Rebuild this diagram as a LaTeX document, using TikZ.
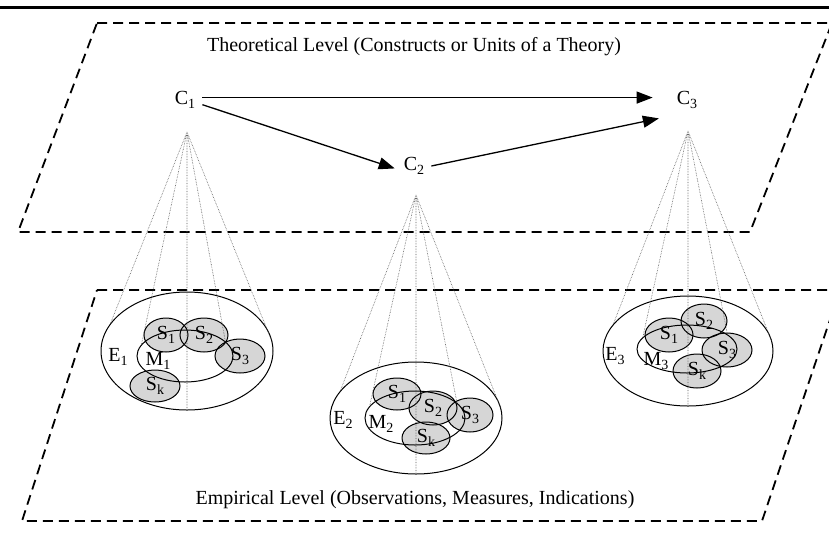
\documentclass[tikz,border=0pt]{standalone}
\usepackage{fontspec}
\setmainfont{Liberation Serif}
\usepackage{tikz}
\usetikzlibrary{arrows.meta}
\usetikzlibrary{shapes.geometric}
\definecolor{sgray}{gray}{0.84}
\newcommand{\ix}[1]{\raisebox{-4.5pt}{\fontsize{14}{14}\selectfont #1}}

\begin{document}
\begin{tikzpicture}[x=1pt,y=-1pt,
		font=\fontsize{20}{24}\selectfont,
		conc/.style={inner sep=7pt},
		link/.style={line width=1.3pt,-{Triangle[length=16pt,width=12pt]}},
		plane/.style={line width=1.8pt,dash pattern=on 10pt off 6pt},
		ray/.style={densely dotted,black!65,line width=0.6pt},
		evid/.style={ellipse,draw,line width=1pt,inner sep=0pt},
		sblob/.style={ellipse,draw,line width=1pt,inner sep=0pt},
		tag/.style={inner sep=0pt}
		]
		\useasboundingbox (0,0) rectangle (829,539);
		\draw[line width=3pt] (0,7) -- (829,7);
		% the two levels
		\draw[plane] (97,23) -- (832,23) -- (750,232) -- (18,232) -- cycle;
		\draw[plane] (97,290) -- (840,290) -- (762,521) -- (22,521) -- cycle;
		\node (theo) at (414,47) {Theoretical Level (Constructs or Units of a Theory)};
		\node (emp) at (415,500) {Empirical Level (Observations, Measures, Indications)};
		% constructs
		\node (C1) [conc] at (185,100) {C\ix{1}};
		\node (C2) [conc] at (414,166) {C\ix{2}};
		\node (C3) [conc] at (687,100) {C\ix{3}};
		\draw[link,shorten >=17pt] (C1.8) -- (C3.172);
		\draw[link,shorten >=2pt] (C1.-15) -- (C2.190);
		\draw[link,shorten >=11pt] (C2.east) -- (C3.south west);
		\coordinate (a1) at (187,132);
		\coordinate (a2) at (416,195);
		\coordinate (a3) at (688,131);
		% shaded indicators first
		\foreach \g/\i/\x/\y/\rx/\ry in {1/1/166/335/22/17, 1/2/204/335/24/17, 1/3/240/356/25/17, 1/k/155/386/25/16,
			2/1/397/394/24/16, 2/2/433/408/24/17, 2/3/470/415/23/17, 2/k/426/438/24/16,
			3/1/669/335/24/17, 3/2/704/321/23/17, 3/3/727/350/25/17, 3/k/697/371/24/17}
			\fill[sgray] (\x,\y) ellipse [x radius=\rx pt, y radius=\ry pt];
		% empirical sets and measures
		\foreach \g/\x/\y/\w/\h in {1/187/351/172/118, 2/416/418/172/112, 3/688/351/170/110}
			\node (E\g) [evid,minimum width=\w pt,minimum height=\h pt] at (\x,\y) {};
		\foreach \g/\x/\y/\w/\h in {1/185/356/96/52, 2/415/418/100/54, 3/687/349/100/48}
			\node (M\g) [evid,minimum width=\w pt,minimum height=\h pt] at (\x,\y) {};
		\foreach \g/\i/\x/\y/\rx/\ry in {1/1/166/335/22/17, 1/2/204/335/24/17, 1/3/240/356/25/17, 1/k/155/386/25/16,
			2/1/397/394/24/16, 2/2/433/408/24/17, 2/3/470/415/23/17, 2/k/426/438/24/16,
			3/1/669/335/24/17, 3/2/704/321/23/17, 3/3/727/350/25/17, 3/k/697/371/24/17}
			\node (S\g\i) [sblob,minimum width=2*\rx pt,minimum height=2*\ry pt] at (\x,\y) {S\ix{\i}};
		\node (lE1) [tag] at (118,357) {E\ix{1}};
		\node (lM1) [tag] at (158,361) {M\ix{1}};
		\node (lE2) [tag] at (343,420) {E\ix{2}};
		\node (lM2) [tag] at (381,424) {M\ix{2}};
		\node (lE3) [tag] at (615,356) {E\ix{3}};
		\node (lM3) [tag] at (656,361) {M\ix{3}};
		% projections
		\foreach \g in {1,2,3}
			\draw[ray] (a\g) -- (E\g.160) (a\g) -- (M\g.165) (a\g) -- (E\g.south)
				(a\g) -- (M\g.20) (a\g) -- (E\g.5);
\end{tikzpicture}
\end{document}
